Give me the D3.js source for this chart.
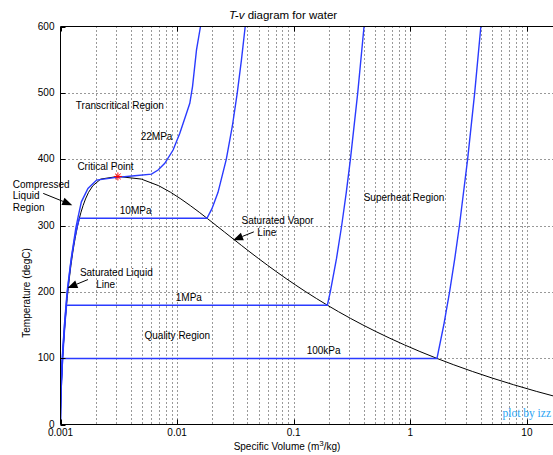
<!DOCTYPE html>
<html>
<head>
<meta charset="utf-8">
<script src="https://cdn.jsdelivr.net/npm/d3@7"></script>
<style>
  body { margin: 0; background: #fff; }
  svg { display: block; font-family: "Liberation Sans", Arial, sans-serif; }
</style>
</head>
<body>
<div class="chart"></div>
<script>
// saturation table for water (T in degC, specific volumes in m3/kg)
var satT  = [0.01, 10, 20, 30, 40, 50, 60, 70, 80, 90, 100, 110, 120, 130, 140, 150, 160, 170, 180, 190,
             200, 210, 220, 230, 240, 250, 260, 270, 280, 290, 300, 310, 320, 330, 340, 350, 360, 370, 373.95];
var satVf = [0.001000, 0.001000, 0.001002, 0.001004, 0.001008, 0.001012, 0.001017, 0.001023, 0.001029, 0.001036,
             0.001043, 0.001052, 0.001060, 0.001070, 0.001080, 0.001091, 0.001102, 0.001114, 0.001127, 0.001141,
             0.001157, 0.001173, 0.001190, 0.001209, 0.001229, 0.001252, 0.001276, 0.001303, 0.001333, 0.001366,
             0.001404, 0.001447, 0.001499, 0.001561, 0.001638, 0.001740, 0.001895, 0.002213, 0.003106];
var satVg = [206.0, 106.32, 57.76, 32.88, 19.52, 12.03, 7.667, 5.040, 3.405, 2.359,
             1.672, 1.2094, 0.8919, 0.6685, 0.5085, 0.3925, 0.3068, 0.2426, 0.1938, 0.1564,
             0.1272, 0.1043, 0.08609, 0.07150, 0.05970, 0.05008, 0.04217, 0.03562, 0.03015, 0.02556,
             0.02166, 0.01834, 0.01548, 0.01298, 0.01078, 0.008812, 0.006949, 0.004931, 0.003106];

// isobars
var p100kPaT = [0.01, 20, 40, 60, 80, 99.61, 99.61, 100, 150, 200, 250, 300, 400, 500, 600];
var p100kPaV = [0.001000, 0.001002, 0.001008, 0.001017, 0.001029, 0.001043, 1.6941, 1.6959, 1.9367, 2.1725,
                2.4062, 2.6389, 3.1027, 3.5656, 4.0279];

var p1MPaT = [0.01, 50, 100, 150, 179.88, 179.88, 200, 250, 300, 350, 400, 500, 600];
var p1MPaV = [0.001000, 0.001012, 0.001043, 0.001090, 0.001127, 0.19436, 0.20602, 0.23275, 0.25799, 0.28250,
              0.30661, 0.35411, 0.40111];

var p10MPaT = [0.01, 20, 40, 60, 80, 100, 120, 140, 160, 180, 200, 220, 240, 260, 280, 300, 311.0, 311.0,
               325, 350, 400, 450, 500, 550, 600];
var p10MPaV = [0.0009952, 0.0009972, 0.0010034, 0.0010127, 0.0010245, 0.0010385, 0.0010549, 0.0010737,
               0.0010953, 0.0011199, 0.0011480, 0.0011805, 0.0012187, 0.0012645, 0.0013216, 0.0013972,
               0.0014522, 0.018026, 0.019861, 0.022440, 0.026436, 0.029782, 0.032811, 0.035655, 0.038378];

var p22MPaT = [0.01, 50, 100, 150, 200, 250, 296, 313, 335.7, 355.9, 368.5, 372.5, 375, 377.5, 383.6,
               393.7, 413.8, 439, 469.2, 484.3, 509.4, 564.8, 600];
var p22MPaV = [0.000991, 0.001003, 0.001034, 0.001080, 0.001139, 0.001235, 0.001353, 0.001416, 0.00151,
               0.00172, 0.00204, 0.00302, 0.00434, 0.00603, 0.00687, 0.00784, 0.00924, 0.01055, 0.01204,
               0.01285, 0.01356, 0.01467, 0.01587];

var critV = 0.003106, critT = 373.95;

var xTicks = [0.001, 0.01, 0.1, 1, 10];
var xTickLabels = ["0.001", "0.01", "0.1", "1", "10"];
var yTicks = [0, 100, 200, 300, 400, 500, 600];

var svgWidth = 553, svgHeight = 455;

var svg = d3.select(".chart")
  .append("svg")
    .attr("width", svgWidth)
    .attr("height", svgHeight);

svg.append("rect").attr("width", svgWidth).attr("height", svgHeight).attr("fill", "#fff");

// x axis runs off the right edge of the picture
var x = d3.scaleLog().domain([0.001, 20]).range([60.5, 562]);
var y = d3.scaleLinear().domain([0, 600]).range([424.5, 26.5]);

// (window.top is read-only, so no plain "top" here)
var plotL = x(0.001), plotB = y(0), plotT = y(600), plotR = x(20);

svg.append("clipPath").attr("id", "plotclip")
  .append("rect")
    .attr("x", plotL).attr("y", plotT)
    .attr("width", plotR - plotL).attr("height", plotB - plotT);

// grid
var gridV = [];
[0.001, 0.01, 0.1, 1, 10].forEach(function(dec) {
  for (var k = 1; k < 10; k++) {
    var v = dec * k;
    if (v > 0.001 && v < 20) gridV.push(v);
  }
});

var grid = svg.append("g").attr("class", "grid")
  .attr("stroke", "#333").attr("stroke-width", 1).attr("stroke-dasharray", "1,3");

grid.selectAll(".gv")
  .data(gridV)
  .enter()
  .append("line")
    .attr("x1", function(d) { return Math.round(x(d)) + 0.5; })
    .attr("x2", function(d) { return Math.round(x(d)) + 0.5; })
    .attr("y1", plotT).attr("y2", plotB);

grid.selectAll(".gh")
  .data(yTicks.filter(function(d) { return d > 0 && d < 600; }))
  .enter()
  .append("line")
    .attr("y1", function(d) { return Math.round(y(d)) + 0.5; })
    .attr("y2", function(d) { return Math.round(y(d)) + 0.5; })
    .attr("x1", plotL).attr("x2", plotR);

var line = d3.line()
  .x(function(d) { return x(d[0]); })
  .y(function(d) { return y(d[1]); });

var plot = svg.append("g").attr("clip-path", "url(#plotclip)");

// saturation dome: liquid line up, vapor line down
var dome = d3.zip(satVf, satT).concat(d3.zip(satVg, satT).reverse());
plot.append("path")
  .attr("d", line(dome))
  .attr("fill", "none")
  .attr("stroke", "#000")
  .attr("stroke-width", 1);

var isobars = [
  d3.zip(p100kPaV, p100kPaT),
  d3.zip(p1MPaV, p1MPaT),
  d3.zip(p10MPaV, p10MPaT),
  d3.zip(p22MPaV, p22MPaT)
];

plot.selectAll(".isobar")
  .data(isobars)
  .enter()
  .append("path")
    .classed("isobar", true)
    .attr("d", line)
    .attr("fill", "none")
    .attr("stroke", "#2a3bff")
    .attr("stroke-width", 1.4);

// critical point marker (asterisk)
var cx = x(critV), cy = y(critT), s = 4;
var star = svg.append("g").attr("stroke", "#ff0000").attr("stroke-width", 1);
[[-s, 0, s, 0], [0, -s, 0, s], [-s * 0.7, -s * 0.7, s * 0.7, s * 0.7], [-s * 0.7, s * 0.7, s * 0.7, -s * 0.7]]
  .forEach(function(a) {
    star.append("line")
      .attr("x1", cx + a[0]).attr("y1", cy + a[1])
      .attr("x2", cx + a[2]).attr("y2", cy + a[3]);
  });

// axes box
var axes = svg.append("g").attr("stroke", "#000").attr("stroke-width", 1).attr("fill", "none");
axes.append("line").attr("x1", plotL).attr("x2", plotL).attr("y1", plotT).attr("y2", plotB);
axes.append("line").attr("x1", plotL).attr("x2", plotR).attr("y1", plotB).attr("y2", plotB);
axes.append("line").attr("x1", plotL).attr("x2", plotR).attr("y1", plotT).attr("y2", plotT);

// ticks (inward)
xTicks.forEach(function(t) {
  var px = Math.round(x(t)) + 0.5;
  axes.append("line").attr("x1", px).attr("x2", px).attr("y1", plotB).attr("y2", plotB - 5);
  axes.append("line").attr("x1", px).attr("x2", px).attr("y1", plotT).attr("y2", plotT + 5);
});
yTicks.forEach(function(t) {
  var py = Math.round(y(t)) + 0.5;
  axes.append("line").attr("x1", plotL).attr("x2", plotL + 5).attr("y1", py).attr("y2", py);
});

// tick labels
svg.selectAll(".xlab")
  .data(xTicks)
  .enter()
  .append("text")
    .attr("x", function(d) { return x(d); })
    .attr("y", plotB + 11)
    .attr("text-anchor", "middle")
    .attr("font-size", 10)
    .text(function(d, i) { return xTickLabels[i]; });

svg.selectAll(".ylab")
  .data(yTicks)
  .enter()
  .append("text")
    .attr("x", plotL - 6)
    .attr("y", function(d) { return y(d) + 3; })
    .attr("text-anchor", "end")
    .attr("font-size", 10)
    .text(function(d) { return d; });

// title
var title = svg.append("text")
  .attr("x", 283).attr("y", 19)
  .attr("text-anchor", "middle")
  .attr("font-size", 11.5);
title.append("tspan").attr("font-style", "italic").text("T-v");
title.append("tspan").text(" diagram for water");

// axis labels
var xl = svg.append("text")
  .attr("x", 287).attr("y", 450)
  .attr("text-anchor", "middle")
  .attr("font-size", 10);
xl.append("tspan").text("Specific Volume (m");
xl.append("tspan").attr("dy", -4).attr("font-size", 8).text("3");
xl.append("tspan").attr("dy", 4).text("/kg)");

svg.append("text")
  .attr("transform", "translate(30,293) rotate(-90)")
  .attr("text-anchor", "middle")
  .attr("font-size", 10)
  .text("Temperature (degC)");

// annotations, placed in data coordinates
var notes = [
  {t: "Transcritical Region", v: 0.00323, T: 480.2},
  {t: "22MPa", v: 0.00666, T: 433.9},
  {t: "Critical Point", v: 0.00243, T: 388.6},
  {t: "10MPa", v: 0.00441, T: 322.1},
  {t: "Saturated Vapor", v: 0.0728, T: 308.1},
  {t: "Line", v: 0.0588, T: 288.9},
  {t: "Superheat Region", v: 0.883, T: 342.2},
  {t: "Saturated Liquid", v: 0.00301, T: 229.1},
  {t: "Line", v: 0.00244, T: 211},
  {t: "1MPa", v: 0.0126, T: 191.3},
  {t: "Quality Region", v: 0.01004, T: 134.4},
  {t: "100kPa", v: 0.1805, T: 111.7}
];

svg.selectAll(".note")
  .data(notes)
  .enter()
  .append("text")
    .attr("x", function(d) { return x(d.v); })
    .attr("y", function(d) { return y(d.T) + 3.5; })
    .attr("text-anchor", "middle")
    .attr("font-size", 10)
    .text(function(d) { return d.t; });

var comp = svg.append("text")
  .attr("font-size", 10)
  .attr("x", x(0.00039)).attr("y", y(362.4) + 3.5);
["Compressed", "Liquid", "Region"].forEach(function(w, i) {
  comp.append("tspan").attr("x", x(0.00039)).attr("dy", i ? 11.5 : 0).text(w);
});

// arrows
var arrows = [
  {v0: 0.000711, T0: 348.4, v1: 0.001262, T1: 330.7},
  {v0: 0.0455, T0: 290.4, v1: 0.0302, T1: 277.9},
  {v0: 0.00172, T0: 218.5, v1: 0.001148, T1: 205.8}
];

arrows.forEach(function(a) {
  var x0 = x(a.v0), y0 = y(a.T0), x1 = x(a.v1), y1 = y(a.T1);
  var dx = x1 - x0, dy = y1 - y0, len = Math.sqrt(dx * dx + dy * dy);
  var ux = dx / len, uy = dy / len, hl = 10, hw = 4;
  var bx = x1 - ux * hl, by = y1 - uy * hl;
  svg.append("line")
    .attr("x1", x0).attr("y1", y0).attr("x2", bx).attr("y2", by)
    .attr("stroke", "#000").attr("stroke-width", 1);
  svg.append("polygon")
    .attr("points", [[x1, y1], [bx - uy * hw, by + ux * hw], [bx + uy * hw, by - ux * hw]].join(" "))
    .attr("fill", "#000");
});

svg.append("text")
  .attr("x", x(6.175)).attr("y", y(17.1) + 4)
  .attr("font-family", "'Liberation Serif', 'DejaVu Serif', serif")
  .attr("font-size", 11.5)
  .attr("fill", "#2aa4f4")
  .text("plot by izz");
</script>
</body>
</html>
